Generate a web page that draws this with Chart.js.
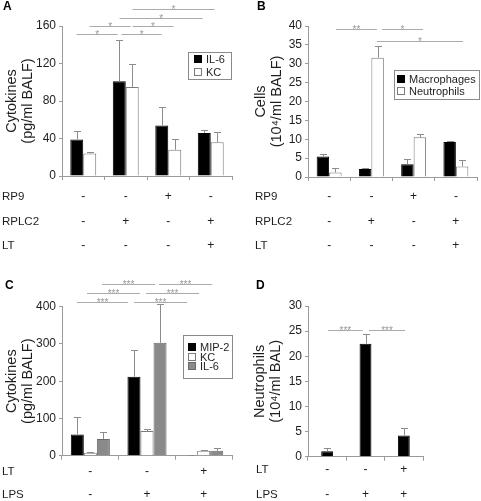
<!DOCTYPE html>
<html>
<head>
<meta charset="utf-8">
<script src="https://cdn.jsdelivr.net/npm/chart.js@4.4.1/dist/chart.umd.min.js"></script>
<style>
  html, body { margin: 0; padding: 0; background: #fff; }
  #figure { position: relative; width: 481px; height: 501px; overflow: hidden; }
  #figure canvas { position: absolute; }
</style>
</head>
<body>
<div id="figure">
  <canvas id="panelA" width="240" height="250" style="left:0;top:0"></canvas>
  <canvas id="panelB" width="241" height="250" style="left:240px;top:0"></canvas>
  <canvas id="panelC" width="240" height="251" style="left:0;top:250px"></canvas>
  <canvas id="panelD" width="241" height="251" style="left:240px;top:250px"></canvas>
</div>
<script>
// --- Panel A: cytokines in BALF ---
const groupsA = ['ctrl', 'RPLC2', 'RP9', 'RPLC2+LT'];
const il6A = [39, 101, 54, 46];
const il6ErrA = [9, 44, 20, 3];
const kcA = [24, 95, 28, 36];
const kcErrA = [2, 25, 12, 11];
const rp9A = ['-', '-', '+', '-'];
const rplc2A = ['-', '+', '-', '+'];
const ltA = ['-', '-', '-', '+'];
const ticksA = [0, 40, 80, 120, 160];

// --- Panel B: cells in BALF ---
const groupsB = ['ctrl', 'RPLC2', 'RP9', 'RPLC2+LT'];
const macB = [5.4, 2.1, 3.4, 9.3];
const macErrB = [0.6, 0.2, 1.3, 0.2];
const neuB = [1.2, 31.6, 10.5, 2.8];
const neuErrB = [1.1, 3.2, 0.8, 1.6];
const ticksB = [0, 5, 10, 15, 20, 25, 30, 35, 40];

// --- Panel C: cytokines after LPS ---
const groupsC = ['ctrl', 'LPS', 'LPS+LT'];
const mip2C = [57, 212, 1];
const mip2ErrC = [46, 73, 1];
const kcC = [8, 66, 13];
const kcErrC = [3, 5, 2];
const il6C = [45, 303, 13];
const il6ErrC = [19, 103, 8];
const ltC = ['-', '-', '+'];
const lpsC = ['-', '+', '+'];
const ticksC = [0, 100, 200, 300, 400];

// --- Panel D: neutrophils after LPS ---
const groupsD = ['ctrl', 'LPS', 'LPS+LT'];
const neuD = [1.1, 22.5, 4.2];
const neuErrD = [0.6, 2.0, 1.5];
const ticksD = [0, 5, 10, 15, 20, 25, 30];

// --- Shared look ---
const FONT = "'Liberation Sans', Arial, sans-serif";
const TEXT = '#1e1e1e';
const AXIS = '#9a9a9a';
const ERR = '#8c8c8c';
const SIG = '#ababab';

Chart.defaults.font.family = FONT;
Chart.defaults.color = TEXT;
Chart.defaults.animation = false;

const black = (label, data, errors) => ({
    label, data, errors, backgroundColor: '#000', borderColor: '#000', borderWidth: 1
});
const white = (label, data, errors) => ({
    label, data, errors, backgroundColor: '#fff', borderColor: '#7a7a7a', borderWidth: 1
});
const grey = (label, data, errors) => ({
    label, data, errors, backgroundColor: '#8a8a8a', borderColor: '#6a6a6a', borderWidth: 1
});

// error whiskers, significance bars, boxed legend, treatment table, panel letter
function extras(setup) {
    return {
        id: 'extras',
        afterDatasetsDraw(chart) {
            const { ctx } = chart;
            const y = chart.scales.y;
            ctx.save();
            ctx.strokeStyle = ERR;
            ctx.lineWidth = 1;
            chart.data.datasets.forEach((ds, i) => {
                chart.getDatasetMeta(i).data.forEach((bar, j) => {
                    const err = ds.errors[j];
                    if (!err) return;
                    const x = Math.round(bar.x) + 0.5;
                    const top = Math.round(y.getPixelForValue(ds.data[j] + err)) + 0.5;
                    ctx.beginPath();
                    ctx.moveTo(x, bar.y);
                    ctx.lineTo(x, top);
                    ctx.moveTo(x - 3.5, top);
                    ctx.lineTo(x + 3.5, top);
                    ctx.stroke();
                });
            });
            ctx.restore();
        },
        afterDraw(chart) {
            const { ctx } = chart;
            const { x, y } = chart.scales;
            const x0 = x.getPixelForValue(0);
            const step = x.getPixelForValue(1) - x0;
            const px = v => x0 + v * step;
            ctx.save();

            // significance bars
            ctx.strokeStyle = SIG;
            ctx.lineWidth = 1;
            ctx.fillStyle = '#999';
            ctx.font = '10px ' + FONT;
            ctx.textAlign = 'center';
            ctx.textBaseline = 'alphabetic';
            setup.sig.forEach(([a, b, v, label]) => {
                const yy = Math.round(y.getPixelForValue(v)) + 0.5;
                ctx.beginPath();
                ctx.moveTo(px(a), yy);
                ctx.lineTo(px(b), yy);
                ctx.stroke();
                ctx.fillText(label, (px(a) + px(b)) / 2, yy + 3);
            });

            // boxed legend (only where the figure has one)
            const lg = setup.legend;
            if (lg) {
                ctx.strokeStyle = '#8a8a8a';
                ctx.strokeRect(lg.box[0] + 0.5, lg.box[1] + 0.5, lg.box[2] - lg.box[0], lg.box[3] - lg.box[1]);
                ctx.font = '11px ' + FONT;
                ctx.textAlign = 'left';
                ctx.textBaseline = 'middle';
                chart.data.datasets.forEach((ds, i) => {
                    const yy = Math.round(lg.rows[i]);
                    ctx.fillStyle = ds.backgroundColor;
                    ctx.fillRect(lg.swatchX, yy - 4, 8, 8);
                    ctx.strokeStyle = ds.borderColor;
                    ctx.strokeRect(lg.swatchX + 0.5, yy - 3.5, 7, 7);
                    ctx.fillStyle = TEXT;
                    ctx.fillText(ds.label, lg.textX, yy + 0.5);
                });
            }

            // treatment table under the axis
            ctx.textBaseline = 'middle';
            setup.table.forEach((row, r) => {
                const yy = setup.tableY[r];
                ctx.font = '11.5px ' + FONT;
                ctx.textAlign = 'left';
                ctx.fillStyle = TEXT;
                ctx.fillText(row.name, setup.tableX, yy);
                ctx.font = '12px ' + FONT;
                ctx.textAlign = 'center';
                row.marks.forEach((m, i) => ctx.fillText(m, x.getPixelForValue(i), yy));
            });

            // panel letter
            ctx.font = 'bold 12px ' + FONT;
            ctx.textAlign = 'left';
            ctx.fillStyle = '#000';
            ctx.fillText(setup.letter, setup.letterAt[0], setup.letterAt[1]);
            ctx.restore();
        }
    };
}

function makePanel(id, labels, datasets, ticks, title, box, setup) {
    const canvas = document.getElementById(id);
    return new Chart(canvas, {
        type: 'bar',
        data: { labels, datasets },
        options: {
            responsive: false,
            devicePixelRatio: 1,
            layout: { padding: { top: box.top, right: canvas.width - box.right, left: 0, bottom: 0 } },
            datasets: { bar: { categoryPercentage: box.groupWidth, barPercentage: 1, borderSkipped: 'start' } },
            plugins: { legend: { display: false }, tooltip: { enabled: false } },
            scales: {
                x: {
                    grid: { display: true, drawOnChartArea: false, color: AXIS, tickLength: 4, offset: true },
                    border: { color: AXIS },
                    ticks: { display: false },
                    afterFit: s => { s.height = canvas.height - box.bottom; }
                },
                y: {
                    min: ticks[0],
                    max: ticks[ticks.length - 1],
                    grid: { drawOnChartArea: false, color: AXIS, tickLength: 3 },
                    border: { color: AXIS },
                    ticks: { stepSize: ticks[1] - ticks[0], padding: 3, font: { size: 12 }, color: TEXT },
                    title: {
                        display: true,
                        text: title,
                        color: TEXT,
                        font: { size: 14.5, lineHeight: '16px' },
                        padding: { top: box.titlePad, bottom: 0 }
                    },
                    afterFit: s => { s.width = box.left; }
                }
            }
        },
        plugins: [extras(setup)]
    });
}

// --- A ---
makePanel('panelA', groupsA,
    [black('IL-6', il6A, il6ErrA), white('KC', kcA, kcErrA)],
    ticksA, ['Cytokines', '(pg/ml BALF)'],
    { left: 62, right: 232, top: 26, bottom: 176, groupWidth: 0.61, titlePad: 3.5 },
    {
        letter: 'A', letterAt: [3, 7],
        legend: { box: [188, 52, 231, 79], rows: [59, 72], swatchX: 194, textX: 206 },
        table: [{ name: 'RP9', marks: rp9A }, { name: 'RPLC2', marks: rplc2A }, { name: 'LT', marks: ltA }],
        tableX: 2, tableY: [197, 222, 246],
        sig: [
            [-0.155, 0.81, 151.5, '*'], [0.90, 1.845, 151.5, '*'],
            [0.15, 1.115, 160, '*'], [1.16, 2.125, 160, '*'],
            [0.855, 2.81, 169, '*'], [1.16, 3.09, 178, '*']
        ]
    });

// --- B ---
makePanel('panelB', groupsB,
    [black('Macrophages', macB, macErrB), white('Neutrophils', neuB, neuErrB)],
    ticksB, ['Cells', '(10\u2074/ml BALF)'],
    { left: 68, right: 237, top: 26, bottom: 177, groupWidth: 0.59, titlePad: 13 },
    {
        letter: 'B', letterAt: [17, 7],
        legend: { box: [154, 70, 239, 99], rows: [79, 91], swatchX: 157, textX: 169 },
        table: [{ name: 'RP9', marks: rp9A }, { name: 'RPLC2', marks: rplc2A }, { name: 'LT', marks: ltA }],
        tableX: 15, tableY: [197, 222, 246],
        sig: [
            [0.16, 1.13, 39.2, '**'], [1.25, 2.22, 39.2, '*'], [1.13, 3.17, 36.0, '*']
        ]
    });

// --- C ---
makePanel('panelC', groupsC,
    [black('MIP-2', mip2C, mip2ErrC), white('KC', kcC, kcErrC), grey('IL-6', il6C, il6ErrC)],
    ticksC, ['Cytokines', '(pg/ml BALF)'],
    { left: 62, right: 232, top: 56.7, bottom: 205.7, groupWidth: 0.69, titlePad: 3.5 },
    {
        letter: 'C', letterAt: [5, 36],
        legend: { box: [183, 85, 232, 128], rows: [97, 106.5, 116], swatchX: 188, textX: 200 },
        table: [{ name: 'LT', marks: ltC }, { name: 'LPS', marks: lpsC }],
        tableX: 2, tableY: [221.7, 245],
        sig: [
            [-0.235, 0.665, 411.8, '***'], [0.77, 1.706, 411.8, '***'],
            [-0.058, 0.877, 436, '***'], [0.983, 1.918, 436, '***'],
            [0.206, 1.142, 460, '***'], [1.212, 2.147, 460, '***']
        ]
    });

// --- D ---
makePanel('panelD', groupsD,
    [black('Neutrophils', neuD, neuErrD)],
    ticksD, ['Neutrophils', '(10\u2074/ml BAL)'],
    { left: 68, right: 183, top: 56, bottom: 206.7, groupWidth: 0.31, titlePad: 12.3 },
    {
        letter: 'D', letterAt: [16, 36],
        legend: null,
        table: [{ name: 'LT', marks: ltC }, { name: 'LPS', marks: lpsC }],
        tableX: 16, tableY: [220, 245],
        sig: [[0.02, 0.93, 25.3, '***'], [1.09, 2.03, 25.3, '***']]
    });
</script>
</body>
</html>
